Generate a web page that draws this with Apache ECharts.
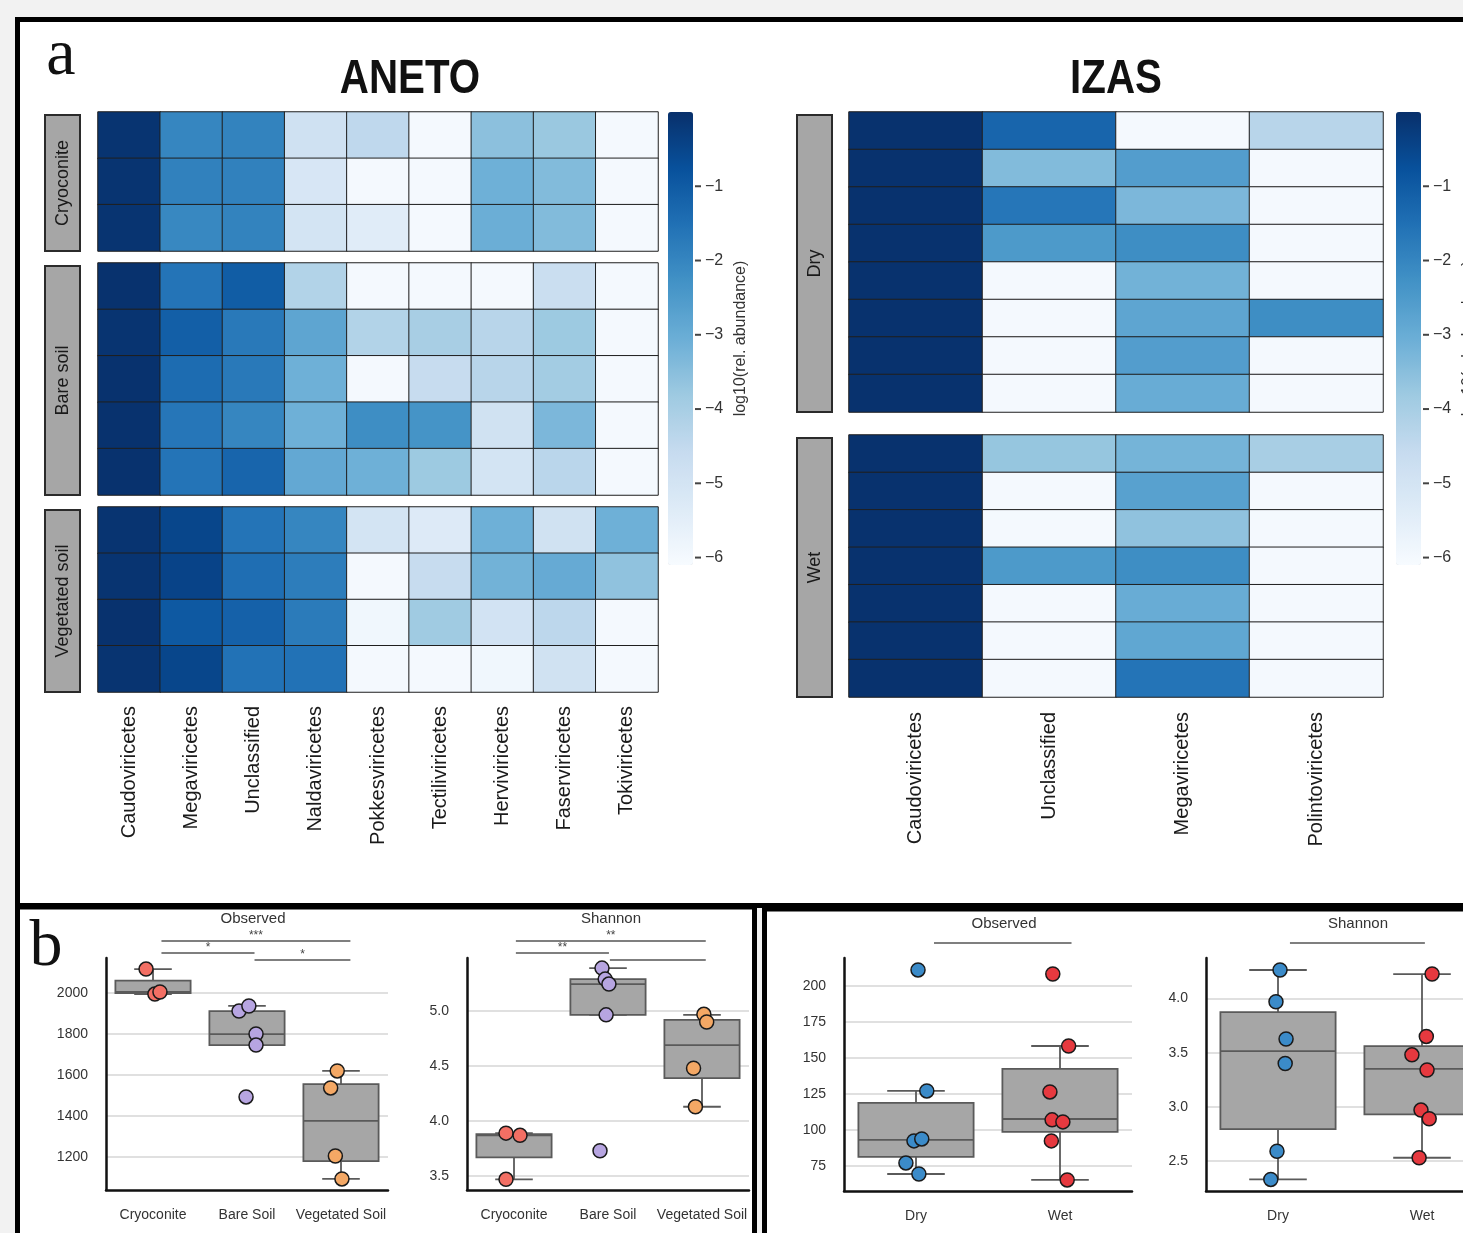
<!DOCTYPE html>
<html>
<head>
<meta charset="utf-8">
<title>Viral classes - ANETO / IZAS</title>
<script src="https://cdn.jsdelivr.net/npm/echarts@6/dist/echarts.min.js"></script>
<style>
  html, body { margin: 0; padding: 0; background: #f2f2f2; }
  #chart { width: 1463px; height: 1233px; }
</style>
</head>
<body>
<div id="chart"></div>
<script>
// ---------- panel a: log10(rel. abundance), one row per sample ----------
const anetoClasses = ['Caudoviricetes', 'Megaviricetes', 'Unclassified', 'Naldaviricetes', 'Pokkesviricetes',
  'Tectiliviricetes', 'Herviviricetes', 'Faserviricetes', 'Tokiviricetes'];
const izasClasses = ['Caudoviricetes', 'Unclassified', 'Megaviricetes', 'Polintoviricetes'];

const anetoCryoconite = [
  [-0.1, -2.0, -1.95, -4.85, -4.45, -6.0, -3.55, -3.75, -6.0],
  [-0.1, -1.9, -1.9, -5.1, -6.0, -6.0, -3.1, -3.4, -6.0],
  [-0.1, -2.05, -1.95, -5.0, -5.4, -6.0, -3.05, -3.4, -6.0]
];
const anetoBareSoil = [
  [-0.05, -1.6, -1.05, -4.2, -6.0, -6.0, -6.0, -4.7, -6.0],
  [-0.1, -1.1, -1.7, -2.8, -4.2, -4.0, -4.3, -3.8, -6.0],
  [-0.05, -1.4, -1.7, -3.1, -6.0, -4.6, -4.3, -3.9, -6.0],
  [-0.05, -1.65, -2.0, -3.1, -2.2, -2.35, -4.9, -3.3, -6.0],
  [-0.05, -1.6, -1.25, -2.9, -3.1, -3.8, -5.0, -4.35, -6.0]
];
const anetoVegetated = [
  [-0.1, -0.5, -1.6, -2.0, -5.0, -5.3, -3.1, -4.9, -3.1],
  [-0.1, -0.45, -1.45, -1.8, -6.0, -4.6, -3.15, -2.95, -3.6],
  [-0.05, -0.95, -1.15, -1.75, -5.9, -3.85, -4.95, -4.4, -6.0],
  [-0.1, -0.5, -1.55, -1.55, -6.0, -6.0, -5.9, -4.9, -6.0]
];
const izasDry = [
  [-0.05, -1.25, -6.0, -4.3],
  [-0.05, -3.4, -2.6, -6.0],
  [-0.05, -1.65, -3.3, -6.0],
  [-0.05, -2.5, -2.2, -6.0],
  [-0.05, -6.0, -3.15, -6.0],
  [-0.05, -6.0, -2.8, -2.2],
  [-0.05, -6.0, -2.6, -6.0],
  [-0.05, -6.0, -3.0, -6.0]
];
const izasWet = [
  [-0.05, -3.7, -3.2, -4.0],
  [-0.05, -6.0, -2.7, -6.0],
  [-0.05, -6.0, -3.6, -6.0],
  [-0.05, -2.5, -2.2, -6.0],
  [-0.05, -6.0, -3.0, -6.0],
  [-0.05, -6.0, -2.85, -6.0],
  [-0.05, -6.0, -1.6, -6.0]
];
const colorbarTicks = [-6, -5, -4, -3, -2, -1];

// ---------- panel b: alpha diversity ----------
const anetoGroups = ['Cryoconite', 'Bare Soil', 'Vegetated Soil'];
const izasGroups = ['Dry', 'Wet'];

// [min, q1, median, q3, max]
const anetoObservedBox = [[1995, 2000, 2005, 2061, 2117], [1746, 1746, 1800, 1912, 1937], [1093, 1180, 1376, 1556, 1620]];
const anetoShannonBox = [[3.47, 3.67, 3.87, 3.88, 3.89], [4.965, 4.965, 5.245, 5.29, 5.39], [4.13, 4.39, 4.69, 4.92, 4.965]];
const izasObservedBox = [[69.4, 81.25, 93.1, 118.75, 127.1], [65.3, 98.6, 107.6, 142.4, 158.3]];
const izasShannonBox = [[2.33, 2.795, 3.515, 3.875, 4.263], [2.53, 2.93, 3.35, 3.56, 4.226]];

// [group index + jitter, value]
const anetoObservedPoints = [
  [-0.074, 2117], [0.02, 1995], [0.074, 2005],
  [0.915, 1912], [1.02, 1937], [1.096, 1800], [1.096, 1746], [0.99, 1493],
  [1.96, 1620], [1.89, 1537], [1.94, 1205], [2.01, 1093]
];
const anetoShannonPoints = [
  [-0.085, 3.89], [0.064, 3.87], [-0.085, 3.47],
  [0.936, 5.39], [0.97, 5.29], [1.01, 5.245], [0.98, 4.965], [0.915, 3.73],
  [2.02, 4.97], [2.05, 4.9], [1.91, 4.48], [1.93, 4.13]
];
const izasObservedPoints = [
  [0.014, 211.1], [0.075, 127.1], [-0.014, 92.4], [0.04, 93.75], [-0.07, 77.1], [0.02, 69.4],
  [0.95, 208.3], [1.06, 158.3], [0.93, 126.4], [0.945, 107], [1.02, 105.6], [0.94, 92.4], [1.05, 65.3]
];
const izasShannonPoints = [
  [0.014, 4.263], [-0.014, 3.97], [0.056, 3.626], [0.05, 3.4], [-0.007, 2.59], [-0.05, 2.33],
  [1.07, 4.226], [1.03, 3.65], [0.93, 3.48], [1.035, 3.34], [0.993, 2.97], [1.05, 2.89], [0.98, 2.53]
];

// significance brackets: [from, to, level, label]
const anetoObservedSig = [[0.09, 2.1, 0, '***'], [0.09, 1.08, 1, '*'], [1.08, 2.1, 2, '*']];
const anetoShannonSig = [[0.02, 2.04, 0, '**'], [0.02, 1.01, 1, '**'], [1.02, 2.04, 2, '']];
const izasObservedSig = [[0.125, 1.08, 0, '']];
const izasShannonSig = [[0.083, 1.02, 0, '']];

const anetoColors = ['#f36f64', '#b7a5e1', '#f4a865'];
const izasColors = ['#3b8bc9', '#e6393f'];
const blues = ['#f7fbff', '#deebf7', '#c6dbef', '#9ecae1', '#6baed6', '#4292c6', '#2171b5', '#08519c', '#08306b'];

const SANS = '"Liberation Sans", Arial, Helvetica, sans-serif';
const SERIF = '"Liberation Serif", "Times New Roman", serif';

const chart = echarts.init(document.getElementById('chart'));

const grids = [], xAxes = [], yAxes = [], series = [], graphics = [];

function addGrid(g) {
  grids.push(Object.assign({ outerBoundsMode: 'none', containLabel: false }, g));
  return grids.length - 1;
}

function cells(rows) {
  const out = [];
  rows.forEach((row, r) => row.forEach((v, c) => out.push([c, r, v])));
  return out;
}

// heatmaps
const heatPanels = [
  { rows: anetoCryoconite, cats: anetoClasses, strip: 'Cryoconite', left: 98, top: 112, width: 560, height: 139, stripLeft: 45 },
  { rows: anetoBareSoil, cats: anetoClasses, strip: 'Bare soil', left: 98, top: 263, width: 560, height: 232, stripLeft: 45 },
  { rows: anetoVegetated, cats: anetoClasses, strip: 'Vegetated soil', left: 98, top: 507, width: 560, height: 185, stripLeft: 45, labels: 14 },
  { rows: izasDry, cats: izasClasses, strip: 'Dry', left: 849, top: 112, width: 534, height: 300, stripLeft: 797 },
  { rows: izasWet, cats: izasClasses, strip: 'Wet', left: 849, top: 435, width: 534, height: 262, stripLeft: 797, labels: 15 }
];

heatPanels.forEach((p) => {
  const gi = addGrid({ left: p.left, top: p.top, width: p.width, height: p.height });
  xAxes.push({
    gridIndex: gi, type: 'category', data: p.cats, show: !!p.labels,
    axisLine: { show: false }, axisTick: { show: false },
    axisLabel: { rotate: 90, margin: p.labels || 0, fontSize: 20, color: '#1a1a1a', fontFamily: SANS }
  });
  yAxes.push({ gridIndex: gi, type: 'category', data: p.rows.map((r, i) => i), inverse: true, show: false });
  series.push({
    type: 'heatmap', xAxisIndex: gi, yAxisIndex: gi, data: cells(p.rows),
    itemStyle: { borderColor: '#1f1f1f', borderWidth: 1 },
    emphasis: { disabled: true }
  });
  // facet strip
  graphics.push({
    type: 'group',
    children: [
      { type: 'rect', shape: { x: p.stripLeft, y: p.top + 3, width: 35, height: p.height - 3 },
        style: { fill: '#a6a6a6', stroke: '#2b2b2b', lineWidth: 2 } },
      { type: 'text', x: p.stripLeft + 18, y: p.top + 1.5 + p.height / 2, rotation: Math.PI / 2,
        style: { text: p.strip, font: '18px ' + SANS, fill: '#1a1a1a', align: 'center', verticalAlign: 'middle' } }
    ]
  });
});

// colour bar scales (the bars themselves are the visualMaps)
const colorbars = [{ right: 693 }, { right: 1421 }];
colorbars.forEach((c) => {
  const gi = addGrid({ left: c.right - 90, top: 112, width: 90, height: 453 });
  c.axisIndex = gi;
  xAxes.push({ gridIndex: gi, type: 'value', show: false });
  yAxes.push({
    gridIndex: gi, type: 'value', position: 'right', min: -6.1, max: 0,
    axisLine: { show: false },
    axisTick: { show: false, customValues: colorbarTicks },
    axisLabel: { customValues: colorbarTicks, margin: 12, fontSize: 16, color: '#333', fontFamily: SANS,
      formatter: (v) => '\u2212' + Math.abs(v) },
    splitLine: { show: false },
    name: 'log10(rel. abundance)', nameLocation: 'middle', nameGap: 40, nameRotate: 90,
    nameTextStyle: { fontSize: 16, color: '#333', fontFamily: SANS }
  });
});

// box plots
const boxPanels = [
  { grid: { left: 106, top: 958, width: 282, height: 232 }, title: 'Observed', titleX: 253, titleY: 919, groups: anetoGroups,
    box: anetoObservedBox, pts: anetoObservedPoints, colors: anetoColors, min: 1039, max: 2171,
    ticks: [1200, 1400, 1600, 1800, 2000], sig: anetoObservedSig, sigY: [-17, -5, 2] },
  { grid: { left: 467, top: 958, width: 282, height: 232 }, title: 'Shannon', titleX: 611, titleY: 919, groups: anetoGroups,
    box: anetoShannonBox, pts: anetoShannonPoints, colors: anetoColors, min: 3.373, max: 5.482,
    ticks: [3.5, 4.0, 4.5, 5.0], sig: anetoShannonSig, sigY: [-17, -5, 2], fixed: 1 },
  { grid: { left: 844, top: 958, width: 288, height: 233 }, title: 'Observed', titleX: 1004, titleY: 924, groups: izasGroups,
    box: izasObservedBox, pts: izasObservedPoints, colors: izasColors, min: 57.6, max: 219.4,
    ticks: [75, 100, 125, 150, 175, 200], sig: izasObservedSig, sigY: [-15] },
  { grid: { left: 1206, top: 958, width: 288, height: 233 }, title: 'Shannon', titleX: 1358, titleY: 924, groups: izasGroups,
    box: izasShannonBox, pts: izasShannonPoints, colors: izasColors, min: 2.223, max: 4.374,
    ticks: [2.5, 3.0, 3.5, 4.0], sig: izasShannonSig, sigY: [-15], fixed: 1 }
];

function renderBox(params, api) {
  const i = api.value(0);
  const lo = api.coord([i, api.value(1)]);
  const q1 = api.coord([i, api.value(2)]);
  const med = api.coord([i, api.value(3)]);
  const q3 = api.coord([i, api.value(4)]);
  const hi = api.coord([i, api.value(5)]);
  const half = api.size([1, 0])[0] * 0.4;
  const cap = half * 0.5;
  const x = lo[0];
  const ln = { stroke: '#5a5a5a', lineWidth: 1.8 };
  return {
    type: 'group',
    children: [
      { type: 'line', shape: { x1: x, y1: hi[1], x2: x, y2: q3[1] }, style: ln },
      { type: 'line', shape: { x1: x, y1: q1[1], x2: x, y2: lo[1] }, style: ln },
      { type: 'line', shape: { x1: x - cap, y1: hi[1], x2: x + cap, y2: hi[1] }, style: ln },
      { type: 'line', shape: { x1: x - cap, y1: lo[1], x2: x + cap, y2: lo[1] }, style: ln },
      { type: 'rect', shape: { x: x - half, y: q3[1], width: half * 2, height: q1[1] - q3[1] },
        style: { fill: '#a6a6a6', stroke: '#5a5a5a', lineWidth: 1.8 } },
      { type: 'line', shape: { x1: x - half, y1: med[1], x2: x + half, y2: med[1] }, style: ln }
    ]
  };
}

boxPanels.forEach((p) => {
  const gi = addGrid(p.grid);
  p.axisIndex = gi;
  const idx = p.groups.map((g, i) => i);
  xAxes.push({
    gridIndex: gi, type: 'value', min: -0.5, max: p.groups.length - 0.5,
    axisLine: { show: true, onZero: false, lineStyle: { color: '#111', width: 2.5 } },
    axisTick: { show: false, customValues: idx },
    axisLabel: { customValues: idx, margin: 18, fontSize: 14, color: '#333', fontFamily: SANS,
      formatter: (v) => p.groups[Math.round(v)] },
    splitLine: { show: false }
  });
  yAxes.push({
    gridIndex: gi, type: 'value', min: p.min, max: p.max,
    axisLine: { show: true, onZero: false, lineStyle: { color: '#111', width: 2.5 } },
    axisTick: { show: false, customValues: p.ticks },
    axisLabel: { customValues: p.ticks, margin: 18, fontSize: 14, color: '#333', fontFamily: SANS,
      formatter: (v) => (p.fixed ? v.toFixed(p.fixed) : String(v)) },
    splitLine: { show: true, lineStyle: { color: '#d6d6d6', width: 1.5 } }
  });
  series.push({
    type: 'custom', xAxisIndex: gi, yAxisIndex: gi, renderItem: renderBox, z: 2,
    encode: { x: 0, y: [1, 2, 3, 4, 5] },
    data: p.box.map((b, i) => [i].concat(b)),
    silent: true
  });
  series.push({
    type: 'scatter', xAxisIndex: gi, yAxisIndex: gi, z: 3, symbolSize: 14,
    data: p.pts,
    itemStyle: { color: (d) => p.colors[Math.round(d.value[0])], borderColor: '#1a1a1a', borderWidth: 1.5, opacity: 1 },
    emphasis: { disabled: true }
  });
});

chart.setOption({
  animation: false,
  backgroundColor: 'transparent',
  grid: grids,
  xAxis: xAxes,
  yAxis: yAxes,
  visualMap: [
    { type: 'continuous', seriesIndex: [0, 1, 2], min: -6.1, max: 0, calculable: false, left: 668, top: 112,
      itemWidth: 25, itemHeight: 453, padding: 0, inRange: { color: blues }, hoverLink: false },
    { type: 'continuous', seriesIndex: [3, 4], min: -6.1, max: 0, calculable: false, left: 1396, top: 112,
      itemWidth: 25, itemHeight: 453, padding: 0, inRange: { color: blues }, hoverLink: false }
  ],
  series: series
});

// frames, titles, colour bar ticks and brackets
const frames = [
  { x: 17.5, y: 19.5, width: 1470, height: 886 },
  { x: 17.5, y: 907, width: 737, height: 340 },
  { x: 764.5, y: 909, width: 720, height: 340 }
];
const all = frames.map((f) => ({
  type: 'rect', z: -10, shape: f, style: { fill: '#ffffff', stroke: '#000000', lineWidth: 5 }
}));

const texts = [
  { text: 'a', x: 61, y: 57, font: '66px ' + SERIF },
  { text: 'b', x: 46, y: 948, font: '66px ' + SERIF },
  { text: 'ANETO', x: 410, y: 80, font: 'bold 48px ' + SANS, scaleX: 0.84 },
  { text: 'IZAS', x: 1116, y: 80, font: 'bold 48px ' + SANS, scaleX: 0.84 }
];
texts.forEach((t) => all.push({
  type: 'text', x: t.x, y: t.y, z: 5, scaleX: t.scaleX || 1,
  style: { text: t.text, font: t.font, fill: '#111', align: 'center', verticalAlign: 'middle' }
}));

colorbars.forEach((c) => {
  colorbarTicks.forEach((v) => {
    const y = chart.convertToPixel({ yAxisIndex: c.axisIndex }, v);
    all.push({ type: 'line', z: 5, shape: { x1: c.right + 2, y1: y, x2: c.right + 8, y2: y },
      style: { stroke: '#444', lineWidth: 2 } });
  });
});

boxPanels.forEach((p) => {
  const xi = p.axisIndex;
  all.push({
    type: 'text', x: p.titleX, y: p.titleY, z: 5,
    style: { text: p.title, font: '15px ' + SANS, fill: '#333', align: 'center', verticalAlign: 'middle' }
  });
  p.sig.forEach(([a, b, level, label]) => {
    const x1 = chart.convertToPixel({ xAxisIndex: xi }, a);
    const x2 = chart.convertToPixel({ xAxisIndex: xi }, b);
    const y = p.grid.top + p.sigY[level];
    all.push({ type: 'line', z: 5, shape: { x1: x1, y1: y, x2: x2, y2: y }, style: { stroke: '#555', lineWidth: 1.5 } });
    if (label) {
      all.push({
        type: 'text', z: 5, x: (x1 + x2) / 2, y: y - 5,
        style: { text: label, font: '12px ' + SANS, fill: '#444', align: 'center', verticalAlign: 'middle' }
      });
    }
  });
});

chart.setOption({ graphic: graphics.concat(all) });
</script>
</body>
</html>
